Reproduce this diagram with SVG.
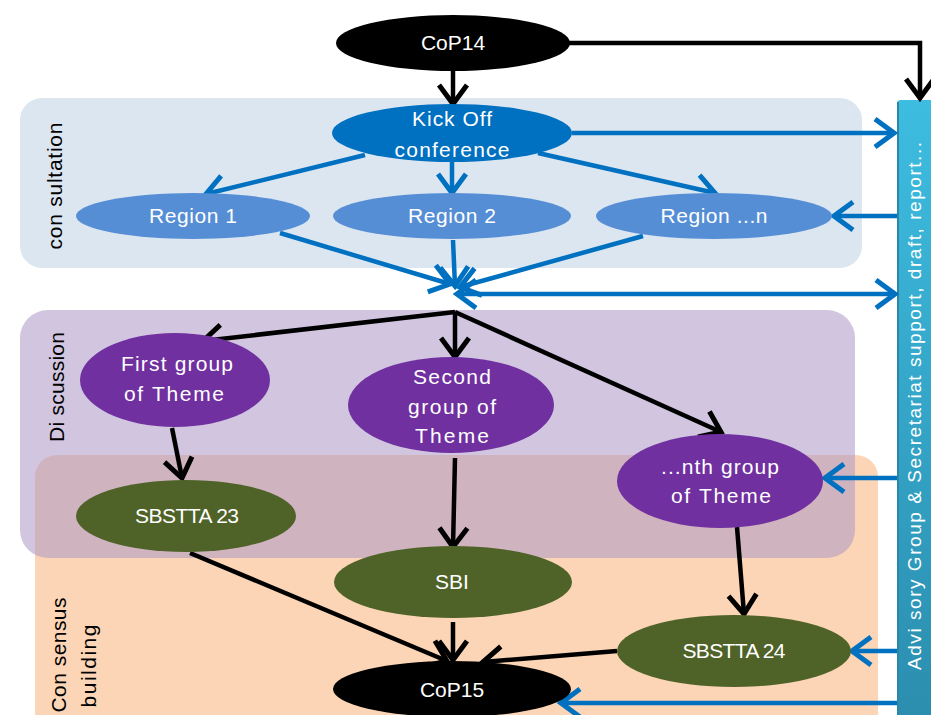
<svg xmlns="http://www.w3.org/2000/svg" width="931" height="715" viewBox="0 0 931 715">
<defs>
<style>
.t{font-family:"Liberation Sans",Arial,sans-serif;font-size:21px;fill:#fff;text-anchor:middle}
.lab{font-family:"Liberation Sans",Arial,sans-serif;font-size:21px;fill:#000;text-anchor:middle}
.bk{stroke:#000;stroke-width:4.5;fill:none;marker-end:url(#ab)}
.bl{stroke:#0070C0;stroke-width:4.5;fill:none;marker-end:url(#au)}
</style>
<marker id="ab" viewBox="0 0 26 34" refX="22" refY="17" markerWidth="26" markerHeight="34" markerUnits="userSpaceOnUse" orient="auto-start-reverse">
<path d="M3,3 L22,17 L3,31" fill="none" stroke="#000" stroke-width="5"/>
</marker>
<marker id="au" viewBox="0 0 26 34" refX="22" refY="17" markerWidth="26" markerHeight="34" markerUnits="userSpaceOnUse" orient="auto-start-reverse">
<path d="M3,3 L22,17 L3,31" fill="none" stroke="#0070C0" stroke-width="5"/>
</marker>
<linearGradient id="bar" x1="0" y1="0" x2="0" y2="1">
<stop offset="0" stop-color="#3DBDE1"/>
<stop offset="1" stop-color="#2B8DAE"/>
</linearGradient>
</defs>

<g id="panels">
<rect id="consultation-panel" x="20" y="98" width="842" height="170" rx="22" fill="#DCE6F1"/>
<rect id="consensus-panel" x="35" y="455" width="843" height="280" rx="22" fill="#FBD5B5"/>
<rect id="discussion-panel" x="20" y="310" width="835" height="248" rx="28" fill="#AE99C7" fill-opacity="0.57"/>
<text class="lab" transform="translate(62,186) rotate(-90)" textLength="127" lengthAdjust="spacing">con sultation</text>
<text class="lab" transform="translate(64,387) rotate(-90)" textLength="110" lengthAdjust="spacing">Di scussion</text>
<text class="lab" transform="translate(66,655) rotate(-90)" textLength="115" lengthAdjust="spacing">Con sensus</text>
<text class="lab" transform="translate(96,666) rotate(-90)" textLength="83" lengthAdjust="spacing">building</text>
</g>

<g id="advisory-bar">
<rect x="897" y="100" width="40" height="625" rx="4" fill="url(#bar)"/>
<line x1="898" y1="102" x2="898" y2="715" stroke="#2A87A8" stroke-width="2"/>
<text class="t" transform="translate(921,406) rotate(-90)" style="font-size:19px" textLength="528" lengthAdjust="spacing">Advi sory Group &amp; Secretariat support, draft, report...</text>
</g>

<g id="connectors">
<path class="bk" d="M453,71 L453,104"/>
<path class="bk" d="M568,43 L920,43 L920,98"/>
<path class="bl" d="M572,133 L894,133"/>
<path class="bl" d="M365,155 L206,194"/>
<path class="bl" d="M452,162 L452,193"/>
<path class="bl" d="M538,153 L715,193"/>
<path class="bl" d="M897,216 L834,216"/>
<path class="bl" d="M280,233 L450,284"/>
<path class="bl" d="M453,240 L455,286"/>
<path class="bl" d="M643,236 L460,287"/>
<path class="bl" d="M457,294 L895,294" style="marker-start:url(#au)"/>
<path class="bk" d="M455,312 L203,341"/>
<path class="bk" d="M455,312 L455,357"/>
<path class="bk" d="M455,312 L721,432"/>
<path class="bk" d="M172,428 L182,478"/>
<path class="bk" d="M455,458 L453,547"/>
<path class="bk" d="M737,527 L744,614"/>
<path class="bk" d="M190,553 L447,661"/>
<path class="bk" d="M453,622 L453,660"/>
<path class="bk" d="M617,651 L483,662"/>
<path class="bl" d="M897,478 L825,478"/>
<path class="bl" d="M897,651 L852,651"/>
<path class="bl" d="M897,703 L561,703"/>
</g>

<g id="cop14">
<ellipse cx="453" cy="43" rx="117" ry="28" fill="#000"/>
<text class="t" x="453" y="50">CoP14</text>
</g>
<g id="kickoff">
<ellipse cx="452" cy="133" rx="120" ry="29" fill="#0070C0"/>
<text class="t" x="452" y="126" textLength="80" lengthAdjust="spacing">Kick Off</text>
<text class="t" x="452" y="157" textLength="115" lengthAdjust="spacing">conference</text>
</g>
<g id="region1">
<ellipse cx="193" cy="216" rx="117" ry="23" fill="#558ED5"/>
<text class="t" x="193" y="223" textLength="88" lengthAdjust="spacing">Region 1</text>
</g>
<g id="region2">
<ellipse cx="452" cy="216" rx="119" ry="23" fill="#558ED5"/>
<text class="t" x="452" y="223" textLength="88" lengthAdjust="spacing">Region 2</text>
</g>
<g id="regionn">
<ellipse cx="714" cy="216" rx="118" ry="23" fill="#558ED5"/>
<text class="t" x="714" y="223" textLength="107" lengthAdjust="spacing">Region ...n</text>
</g>
<g id="first-group">
<ellipse cx="175" cy="380" rx="95" ry="47" fill="#7030A0"/>
<text class="t" x="177" y="371" textLength="112" lengthAdjust="spacing">First group</text>
<text class="t" x="174" y="401" textLength="100" lengthAdjust="spacing">of Theme</text>
</g>
<g id="second-group">
<ellipse cx="451" cy="405" rx="103" ry="48" fill="#7030A0"/>
<text class="t" x="452" y="384" textLength="78" lengthAdjust="spacing">Second</text>
<text class="t" x="452" y="414" textLength="88" lengthAdjust="spacing">group of</text>
<text class="t" x="452" y="443" textLength="74" lengthAdjust="spacing">Theme</text>
</g>
<g id="nth-group">
<ellipse cx="720" cy="481" rx="103" ry="47" fill="#7030A0"/>
<text class="t" x="720" y="474" textLength="118" lengthAdjust="spacing">...nth group</text>
<text class="t" x="721" y="503" textLength="100" lengthAdjust="spacing">of Theme</text>
</g>
<g id="sbstta23">
<ellipse cx="186" cy="516" rx="110" ry="36" fill="#4F6228"/>
<text class="t" x="187" y="523" textLength="104" lengthAdjust="spacing">SBSTTA 23</text>
</g>
<g id="sbi">
<ellipse cx="453" cy="582" rx="119" ry="36" fill="#4F6228"/>
<text class="t" x="452" y="589">SBI</text>
</g>
<g id="sbstta24">
<ellipse cx="734" cy="651" rx="117" ry="36" fill="#4F6228"/>
<text class="t" x="734" y="658" textLength="103" lengthAdjust="spacing">SBSTTA 24</text>
</g>
<g id="cop15">
<ellipse cx="452" cy="689" rx="119" ry="28" fill="#000"/>
<text class="t" x="452" y="697">CoP15</text>
</g>
</svg>
